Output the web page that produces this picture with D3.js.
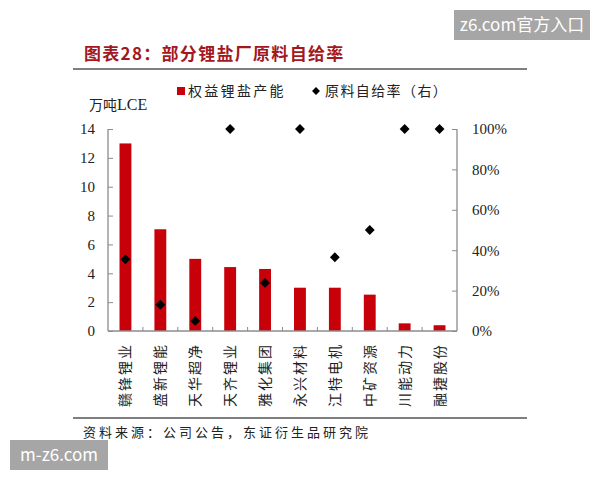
<!DOCTYPE html>
<html>
<head>
<meta charset="utf-8">
<script src="https://cdn.jsdelivr.net/npm/d3@7"></script>
<style>
  html, body { margin: 0; padding: 0; background: #fff; }
  svg { display: block; }
</style>
</head>
<body>
<svg id="chart" width="600" height="480"></svg>
<script>
const categories = ["赣锋锂业", "盛新锂能", "天华超净", "天齐锂业", "雅化集团", "永兴材料", "江特电机", "中矿资源", "川能动力", "融捷股份"];
const capacity = [13, 7.05, 5, 4.43, 4.3, 3, 3, 2.52, 0.53, 0.4];
const selfRate = [0.355, 0.13, 0.05, 1.0, 0.238, 1.0, 0.365, 0.5, 1.0, 1.0];
const leftTicks = [0, 2, 4, 6, 8, 10, 12, 14];
const rightTicks = [0, 0.2, 0.4, 0.6, 0.8, 1.0];

const svg = d3.select("#chart");
const CJK = "'Noto Sans CJK SC', sans-serif";
const SERIF = "'Liberation Serif', 'DejaVu Serif', serif";
const red = "#c8000a";
const axisColor = "#8c8c8c";

const pLeft = 108, pRight = 457, pTop = 129, pBottom = 331;

const x = d3.scaleBand().domain(categories).range([pLeft, pRight]).paddingInner(0.66).paddingOuter(0.33);
const xb = d3.scaleBand().domain(categories).range([pLeft, pRight]);
const yL = d3.scaleLinear().domain([0, 14]).range([pBottom, pTop]);
const yR = d3.scaleLinear().domain([0, 1]).range([pBottom, pTop]);

// watermarks
svg.append("rect").attr("x", 454).attr("y", 10).attr("width", 136).attr("height", 30).attr("fill", "#a6a6a6");
svg.append("text").attr("x", 522).attr("y", 31).attr("text-anchor", "middle")
  .attr("font-family", "'Noto Sans CJK SC', sans-serif").attr("font-size", 17).attr("fill", "#fff").text("z6.com官方入口");
svg.append("rect").attr("x", 10).attr("y", 440).attr("width", 98).attr("height", 30).attr("fill", "#a6a6a6");
svg.append("text").attr("x", 59).attr("y", 461).attr("text-anchor", "middle")
  .attr("font-family", "'Noto Sans CJK SC', sans-serif").attr("font-size", 17).attr("fill", "#fff").text("m-z6.com");

// title
svg.append("text").attr("x", 84).attr("y", 60)
  .attr("font-family", CJK).attr("font-weight", "bold").attr("font-size", 17)
  .attr("letter-spacing", 1.3).attr("fill", "#a3171e").text("图表28：部分锂盐厂原料自给率");
svg.append("line").attr("x1", 73).attr("x2", 527).attr("y1", 69).attr("y2", 69)
  .attr("stroke", "#555").attr("stroke-width", 1.5);

// legend
svg.append("rect").attr("x", 177).attr("y", 87).attr("width", 8).attr("height", 8).attr("fill", red);
svg.append("text").attr("x", 188).attr("y", 96).attr("font-family", CJK).attr("font-size", 14)
  .attr("letter-spacing", 2.3).attr("fill", "#222").text("权益锂盐产能");
svg.append("path").attr("d", d3.symbol(d3.symbolDiamond2, 40)()).attr("transform", "translate(316,91)").attr("fill", "#000");
svg.append("text").attr("x", 325).attr("y", 96).attr("font-family", CJK).attr("font-size", 14)
  .attr("letter-spacing", 1.4).attr("fill", "#222").text("原料自给率（右）");

// unit
svg.append("text").attr("x", 89).attr("y", 110).attr("font-family", CJK).attr("font-size", 14)
  .attr("fill", "#222").text("万吨").append("tspan").attr("font-family", SERIF).attr("font-size", 16).text("LCE");

// bars
svg.append("g").selectAll("rect").data(categories).join("rect")
  .attr("x", d => x(d)).attr("width", x.bandwidth())
  .attr("y", (d, i) => yL(capacity[i])).attr("height", (d, i) => yL(0) - yL(capacity[i]))
  .attr("fill", red);

// axes
const gL = svg.append("g").attr("transform", `translate(${pLeft},0)`)
  .call(d3.axisRight(yL).tickValues(leftTicks).tickSize(5).tickFormat(d3.format("d")));
gL.selectAll("text").attr("x", -13).attr("text-anchor", "end");
const gR = svg.append("g").attr("transform", `translate(${pRight},0)`)
  .call(d3.axisLeft(yR).tickValues(rightTicks).tickSize(5).tickFormat(d3.format(".0%")));
gR.selectAll("text").attr("x", 15).attr("text-anchor", "start");
const gB = svg.append("g").attr("transform", `translate(0,${pBottom})`)
  .call(d3.axisTop(xb).tickSize(0).tickFormat(""));
// category boundary ticks (inside)
svg.append("g").selectAll("line").data(categories.slice(1)).join("line")
  .attr("x1", d => xb(d)).attr("x2", d => xb(d)).attr("y1", pBottom).attr("y2", pBottom - 4)
  .attr("stroke", axisColor);
[gL, gR, gB].forEach(g => {
  g.selectAll(".domain").attr("stroke", axisColor).attr("stroke-width", 1.3);
  g.selectAll(".tick line").attr("stroke", axisColor);
  g.selectAll("text").attr("font-family", SERIF).attr("font-size", 15).attr("fill", "#222");
});
gL.select(".domain").attr("d", `M0,${pTop}V${pBottom}`);
gR.select(".domain").attr("d", `M0,${pTop}V${pBottom}`);
gB.select(".domain").attr("d", `M${pLeft},0H${pRight}`);

// diamonds
svg.append("g").selectAll("path").data(categories).join("path")
  .attr("d", d3.symbol(d3.symbolDiamond2, 62)())
  .attr("transform", (d, i) => `translate(${xb(d) + xb.bandwidth() / 2},${yR(selfRate[i])})`)
  .attr("fill", "#000");

// category labels (vertical)
svg.append("g").selectAll("text").data(categories).join("text")
  .attr("transform", d => `translate(${xb(d) + xb.bandwidth() / 2 + 5},343) rotate(-90)`)
  .attr("text-anchor", "end")
  .attr("font-family", CJK).attr("font-size", 14).attr("letter-spacing", 2)
  .attr("fill", "#222").text(d => d);

// bottom line and source
svg.append("line").attr("x1", 73).attr("x2", 527).attr("y1", 418).attr("y2", 418)
  .attr("stroke", "#555").attr("stroke-width", 1.5);
svg.append("text").attr("x", 83).attr("y", 437).attr("font-family", CJK).attr("font-size", 13)
  .attr("letter-spacing", 3).attr("fill", "#222").text("资料来源：公司公告，东证衍生品研究院");
</script>
</body>
</html>
